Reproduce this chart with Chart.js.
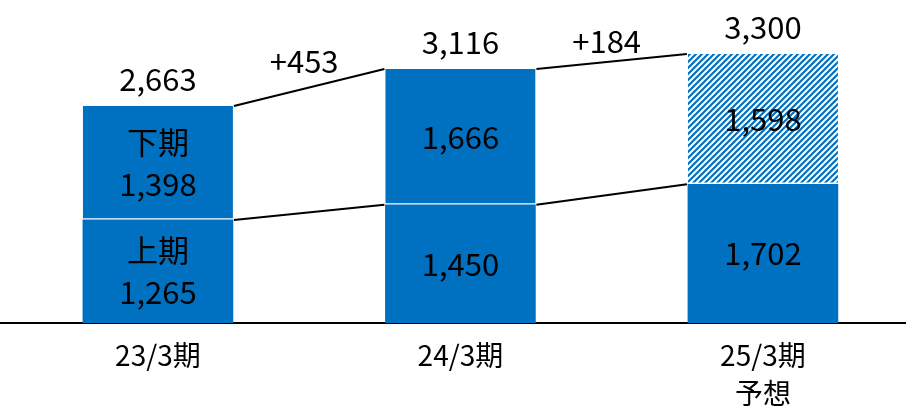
<!DOCTYPE html>
<html>
<head>
<meta charset="utf-8">
<script src="https://cdn.jsdelivr.net/npm/chart.js@4/dist/chart.umd.min.js"></script>
<style>
  body { margin: 0; background: #fff; }
  #wrap { width: 906px; height: 409px; }
</style>
</head>
<body>
<div id="wrap"><canvas id="myChart" width="906" height="409"></canvas></div>
<script>
const periods = [['23/3期'], ['24/3期'], ['25/3期', '予想']];
const firstHalf = [1265, 1450, 1702];
const secondHalf = [1398, 1666, 1598];
const totals = [2663, 3116, 3300];
const changes = ['+453', '+184'];
const halfNames = ['上期', '下期'];

const blue = '#0070C0';
const FONT = '"Noto Sans CJK JP", "Noto Sans", sans-serif';
// how far each change label sits above its connector
const changeLift = [26, 20];

// hatch for the forecast half
let pc = document.createElement('canvas');
pc.width = 6;
pc.height = 6;
let pctx = pc.getContext('2d');
pctx.fillStyle = '#fff';
pctx.fillRect(0, 0, 6, 6);
pctx.strokeStyle = blue;
pctx.lineWidth = 2.2;
pctx.beginPath();
pctx.moveTo(-1, 7); pctx.lineTo(7, -1);
pctx.moveTo(-1, 1); pctx.lineTo(1, -1);
pctx.moveTo(5, 7); pctx.lineTo(7, 5);
pctx.stroke();
let ctx = document.getElementById('myChart').getContext('2d');
const hatch = ctx.createPattern(pc, 'repeat');

function fmt(v) {
    return v.toLocaleString('en-US');
}

const labelPlugin = {
    id: 'labelPlugin',
    afterDatasetsDraw(chart) {
        const c = chart.ctx;
        const lower = chart.getDatasetMeta(0).data;
        const upper = chart.getDatasetMeta(1).data;
        c.save();
        c.textAlign = 'center';
        c.textBaseline = 'middle';
        c.fillStyle = '#000';
        c.font = '31px ' + FONT;

        // connector lines
        c.strokeStyle = '#000';
        c.lineWidth = 2;
        for (let i = 0; i < lower.length - 1; i++) {
            const a = lower[i], b = lower[i + 1];
            const ua = upper[i], ub = upper[i + 1];
            const ra = a.x + a.width / 2, lb = b.x - b.width / 2;
            c.beginPath();
            c.moveTo(ra + 1, a.y);
            c.lineTo(lb - 1, b.y);
            c.moveTo(ra + 1, ua.y);
            c.lineTo(lb - 1, ub.y);
            c.stroke();
            c.fillText(changes[i], (ra + lb) / 2 - 5, (ua.y + ub.y) / 2 - changeLift[i]);
        }

        // segment values
        for (let i = 0; i < lower.length; i++) {
            const lo = lower[i], up = upper[i];
            const midLo = (lo.y + lo.base) / 2;
            const midUp = (up.y + up.base) / 2;
            if (i === 0) {
                c.fillText(halfNames[0], lo.x, midLo - 21);
                c.fillText(fmt(firstHalf[i]), lo.x, midLo + 21);
                c.fillText(halfNames[1], up.x, midUp - 21);
                c.fillText(fmt(secondHalf[i]), up.x, midUp + 21);
            } else {
                c.fillText(fmt(firstHalf[i]), lo.x, midLo);
                c.fillText(fmt(secondHalf[i]), up.x, midUp);
            }
            c.fillText(fmt(totals[i]), up.x, up.y - 27);
        }
        c.restore();
    }
};

let myChart = new Chart(ctx, {
    type: 'bar',
    data: {
        datasets: [
            {
                label: halfNames[0],
                data: firstHalf.map((v, i) => ({ x: i, y: v })),
                backgroundColor: blue,
                borderWidth: 0,
                barThickness: 150
            },
            {
                label: halfNames[1],
                data: secondHalf.map((v, i) => ({ x: i, y: v })),
                backgroundColor: [blue, blue, hatch],
                borderColor: '#fff',
                borderWidth: { top: 0, left: 0, right: 0, bottom: 2 },
                borderSkipped: false,
                barThickness: 150
            }
        ]
    },
    options: {
        responsive: false,
        animation: false,
        layout: { padding: 0 },
        plugins: {
            legend: { display: false },
            tooltip: { enabled: false }
        },
        scales: {
            x: {
                type: 'linear',
                stacked: true,
                min: -0.522,
                max: 2.473,
                offset: false,
                grid: { display: false, drawTicks: false },
                border: { display: true, color: '#000', width: 2 },
                afterFit: function (scale) {
                    scale.height = 86;
                },
                ticks: {
                    stepSize: 1,
                    includeBounds: false,
                    autoSkip: false,
                    maxRotation: 0,
                    minRotation: 0,
                    padding: 13,
                    color: '#000',
                    font: { family: FONT, size: 28, lineHeight: 1.36 },
                    callback: function (value) {
                        return Number.isInteger(value) && periods[value] ? periods[value] : '';
                    }
                }
            },
            y: {
                display: false,
                stacked: true,
                min: 0,
                max: 3963
            }
        }
    },
    plugins: [labelPlugin]
});
</script>
</body>
</html>
